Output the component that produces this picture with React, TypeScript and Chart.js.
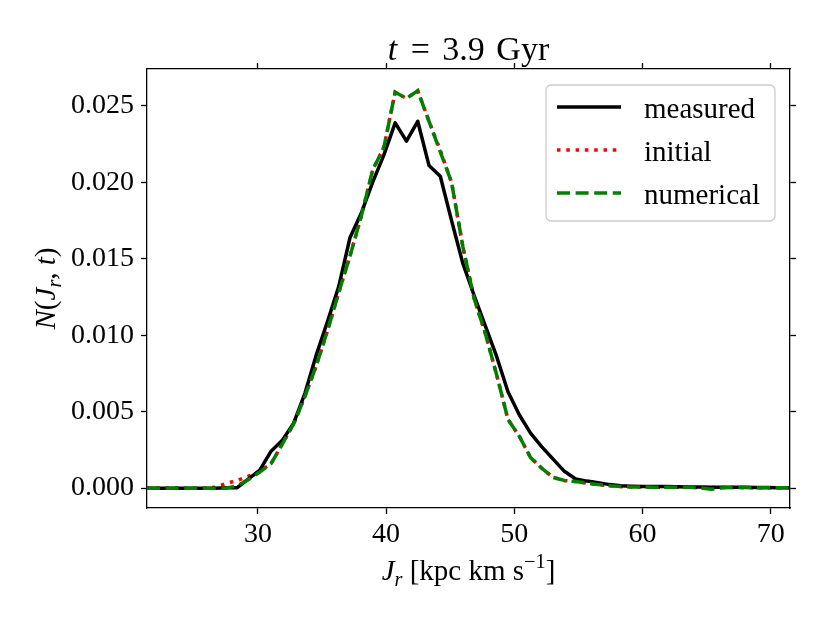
import { useEffect, useRef } from "react"
import { Chart, registerables } from "chart.js"

Chart.register(...registerables)

// sample points of J_r (kpc km/s)
const jr = [
  21.35, 22.23, 23.11, 23.99, 24.87, 25.75, 26.63, 27.51, 28.39, 29.27,
  30.15, 31.03, 31.91, 32.79, 33.67, 34.55, 35.43, 36.31, 37.19, 38.07,
  38.95, 39.83, 40.71, 41.59, 42.47, 43.35, 44.23, 45.11, 45.99, 46.87,
  47.75, 48.63, 49.51, 50.39, 51.27, 52.15, 53.03, 53.91, 54.79, 55.67,
  56.55, 57.43, 58.31, 59.19, 60.07, 60.95, 61.83, 62.71, 63.59, 64.47,
  65.35, 66.23, 67.11, 67.99, 68.87, 69.75, 70.63, 71.51,
]

const measured = [
  0, 0, 0, 0, 0, 0, 0, 0.00002, 0.00003, 0.0006,
  0.00118, 0.00242, 0.00314, 0.00425, 0.0062, 0.0087, 0.0109, 0.0132, 0.0164, 0.018,
  0.02, 0.0218, 0.0239, 0.0227, 0.024, 0.0211, 0.0204, 0.0175, 0.0147, 0.0126,
  0.0106, 0.0086, 0.0063, 0.0048, 0.0036, 0.0027, 0.0019, 0.0011, 0.0006, 0.00046,
  0.00036, 0.00023, 0.00016, 0.00013, 0.00011, 0.0001, 0.0001, 0.00009, 0.00008, 0.00007,
  0.00006, 0.00006, 0.00005, 0.00005, 0.00004, 0.00004, 0.00003, 0.00003,
]

const initial = [
  0, 0, 0, 0, 0, 0, 0.00005, 0.0003, 0.0005, 0.00078,
  0.0011, 0.0016, 0.0029, 0.0042, 0.006, 0.008, 0.0103, 0.0128, 0.0152, 0.0178,
  0.0208, 0.0223, 0.0259, 0.0255, 0.026, 0.024, 0.0221, 0.02, 0.0158, 0.0124,
  0.0101, 0.0074, 0.0045, 0.0034, 0.002, 0.0013, 0.0007, 0.0005, 0.00043, 0.00033,
  0.00023, 0.00016, 0.0001, 0.00007, 0.00007, 0.00006, 0.00006, 0.00005, 0.00005, 0.00004,
  0.00004, 0.00004, 0.00004, 0.00003, 0.00003, 0.00003, 0.00003, 0.00003,
]

const numerical = [
  0, 0, 0, 0, 0, 0, 0, 0, 0.00016, 0.00056,
  0.00105, 0.0016, 0.0029, 0.0042, 0.006, 0.008, 0.0103, 0.0128, 0.0152, 0.0178,
  0.0208, 0.0223, 0.0259, 0.0255, 0.026, 0.024, 0.022, 0.02, 0.0158, 0.0124,
  0.0101, 0.0074, 0.0045, 0.0034, 0.002, 0.0013, 0.0007, 0.0005, 0.00043, 0.00033,
  0.00023, 0.00016, 0.0001, 0.00007, 0.00007, 0.00006, 0.00006, 0.00005, 0.00005, 0.00003,
  -0.00008, 0.00002, 0.00004, 0.00004, 0.00003, 0.00003, 0.00003, 0.00003,
]

const xTicks = [30, 40, 50, 60, 70]
const yTicks = [0, 0.005, 0.01, 0.015, 0.02, 0.025]

const FONT = '"Liberation Serif", "Times New Roman", serif'

type Seg = { t: string; it?: boolean; sub?: boolean; sup?: boolean; gap?: number }

const titleSegs: Seg[] = [
  { t: "t", it: true, gap: 5 },
  { t: " = ", gap: 4 },
  { t: "3.9", gap: 3 },
  { t: " Gyr" },
]
const xLabelSegs: Seg[] = [
  { t: "J", it: true },
  { t: "r", it: true, sub: true },
  { t: " [kpc km s" },
  { t: "\u22121", sup: true },
  { t: "]" },
]
const yLabelSegs: Seg[] = [
  { t: "N", it: true },
  { t: "(" },
  { t: "J", it: true },
  { t: "r", it: true, sub: true },
  { t: ", " },
  { t: "t", it: true },
  { t: ")" },
]

const fnt = (size: number, italic?: boolean) => `${italic ? "italic " : ""}${size}px ${FONT}`

function drawRich(ctx: CanvasRenderingContext2D, segs: Seg[], x: number, y: number, size: number) {
  let total = 0
  const widths = segs.map((s) => {
    ctx.font = fnt(s.sub || s.sup ? size * 0.7 : size, s.it)
    const w = ctx.measureText(s.t).width + (s.gap || 0)
    total += w
    return w
  })
  let cx = x - total / 2
  ctx.textAlign = "left"
  ctx.textBaseline = "alphabetic"
  segs.forEach((s, i) => {
    ctx.font = fnt(s.sub || s.sup ? size * 0.7 : size, s.it)
    const dy = s.sub ? size * 0.22 : s.sup ? -size * 0.4 : 0
    ctx.fillText(s.t, cx, y + dy)
    cx += widths[i]
  })
}

const labelsPlugin = {
  id: "labels",
  afterDraw(chart: Chart) {
    const ctx = chart.ctx
    const a = chart.chartArea
    const mid = (a.left + a.right) / 2
    ctx.save()
    ctx.fillStyle = "#000"
    drawRich(ctx, titleSegs, mid, 60, 34)
    drawRich(ctx, xLabelSegs, mid, 580, 29)
    ctx.save()
    ctx.translate(55, (a.top + a.bottom) / 2)
    ctx.rotate(-Math.PI / 2)
    drawRich(ctx, yLabelSegs, 0, 0, 29)
    ctx.restore()

    // legend box
    const bx = a.right - 244
    const by = a.top + 16
    const bw = 229
    const bh = 136
    ctx.beginPath()
    ctx.roundRect(bx, by, bw, bh, 5)
    ctx.fillStyle = "rgba(255,255,255,0.8)"
    ctx.fill()
    ctx.strokeStyle = "#cccccc"
    ctx.lineWidth = 1.3
    ctx.stroke()

    const rows = [0, 1, 2]
    rows.forEach((di) => {
      const ds: any = chart.data.datasets[di]
      const ry = by + 22 + di * 43
      ctx.beginPath()
      ctx.setLineDash(ds.borderDash || [])
      ctx.lineCap = "butt"
      ctx.strokeStyle = ds.borderColor
      ctx.lineWidth = ds.borderWidth
      ctx.moveTo(bx + 11, ry)
      ctx.lineTo(bx + 75, ry)
      ctx.stroke()
      ctx.setLineDash([])
      ctx.fillStyle = "#000"
      ctx.font = fnt(29)
      ctx.textAlign = "left"
      ctx.textBaseline = "alphabetic"
      ctx.fillText(ds.label, bx + 98, ry + 11)
    })
    ctx.restore()
  },
}

const axisCommon = (showLabels: boolean) => ({
  type: "linear" as const,
  grid: {
    drawOnChartArea: false,
    drawTicks: true,
    tickLength: 6,
    tickWidth: 1.3,
    tickColor: "#000",
  },
  border: { display: true, color: "#000", width: 1.3 },
  ticks: {
    display: showLabels,
    color: "#000",
    font: { family: FONT, size: 28 },
    autoSkip: false,
    maxRotation: 0,
    includeBounds: false,
  },
})

export default function App() {
  const chartRef = useRef<HTMLCanvasElement>(null)
  const chartInstance = useRef<Chart | null>(null)

  useEffect(() => {
    document.body.style.margin = "0"
    if (!chartRef.current) return
    if (chartInstance.current) chartInstance.current.destroy()

    const pts = (ys: number[]) => ys.map((y, i) => ({ x: jr[i], y }))
    const xMin = jr[0]
    const xMax = jr[jr.length - 1]

    chartInstance.current = new Chart(chartRef.current, {
      type: "line",
      data: {
        datasets: [
          {
            label: "measured",
            data: pts(measured),
            borderColor: "#000000",
            borderWidth: 3.5,
            borderJoinStyle: "round",
            pointRadius: 0,
            tension: 0,
            order: 2,
          },
          {
            label: "initial",
            data: pts(initial),
            borderColor: "#ff0000",
            borderWidth: 3.5,
            borderDash: [3.5, 5.8],
            borderCapStyle: "butt",
            pointRadius: 0,
            tension: 0,
            order: 3,
          },
          {
            label: "numerical",
            data: pts(numerical),
            borderColor: "#008000",
            borderWidth: 3.5,
            borderDash: [13, 5.6],
            borderCapStyle: "butt",
            pointRadius: 0,
            tension: 0,
            order: 1,
          },
        ],
      },
      options: {
        animation: false,
        responsive: false,
        devicePixelRatio: 1,
        layout: { padding: 0 },
        plugins: { legend: { display: false }, tooltip: { enabled: false } },
        scales: {
          x: {
            ...axisCommon(true),
            position: "bottom",
            min: xMin,
            max: xMax,
            ticks: { ...axisCommon(true).ticks, padding: 4, callback: (v: any) => String(v) },
            afterBuildTicks: (s: any) => {
              s.ticks = xTicks.map((v) => ({ value: v }))
            },
            afterFit: (s: any) => {
              s.height = 115
            },
          },
          x2: {
            ...axisCommon(false),
            position: "top",
            min: xMin,
            max: xMax,
            afterBuildTicks: (s: any) => {
              s.ticks = xTicks.map((v) => ({ value: v }))
            },
            afterFit: (s: any) => {
              s.height = 69
            },
          },
          y: {
            ...axisCommon(true),
            position: "left",
            min: -0.0013,
            max: 0.02742,
            ticks: { ...axisCommon(true).ticks, padding: 7, callback: (v: any) => Number(v).toFixed(3) },
            afterBuildTicks: (s: any) => {
              s.ticks = yTicks.map((v) => ({ value: v }))
            },
            afterFit: (s: any) => {
              s.width = 147
            },
          },
          y2: {
            ...axisCommon(false),
            position: "right",
            min: -0.0013,
            max: 0.02742,
            afterBuildTicks: (s: any) => {
              s.ticks = yTicks.map((v) => ({ value: v }))
            },
            afterFit: (s: any) => {
              s.width = 40
            },
          },
        },
      },
      plugins: [labelsPlugin],
    })

    return () => {
      if (chartInstance.current) {
        chartInstance.current.destroy()
        chartInstance.current = null
      }
    }
  }, [])

  return <canvas ref={chartRef} width={830} height={623}></canvas>
}
